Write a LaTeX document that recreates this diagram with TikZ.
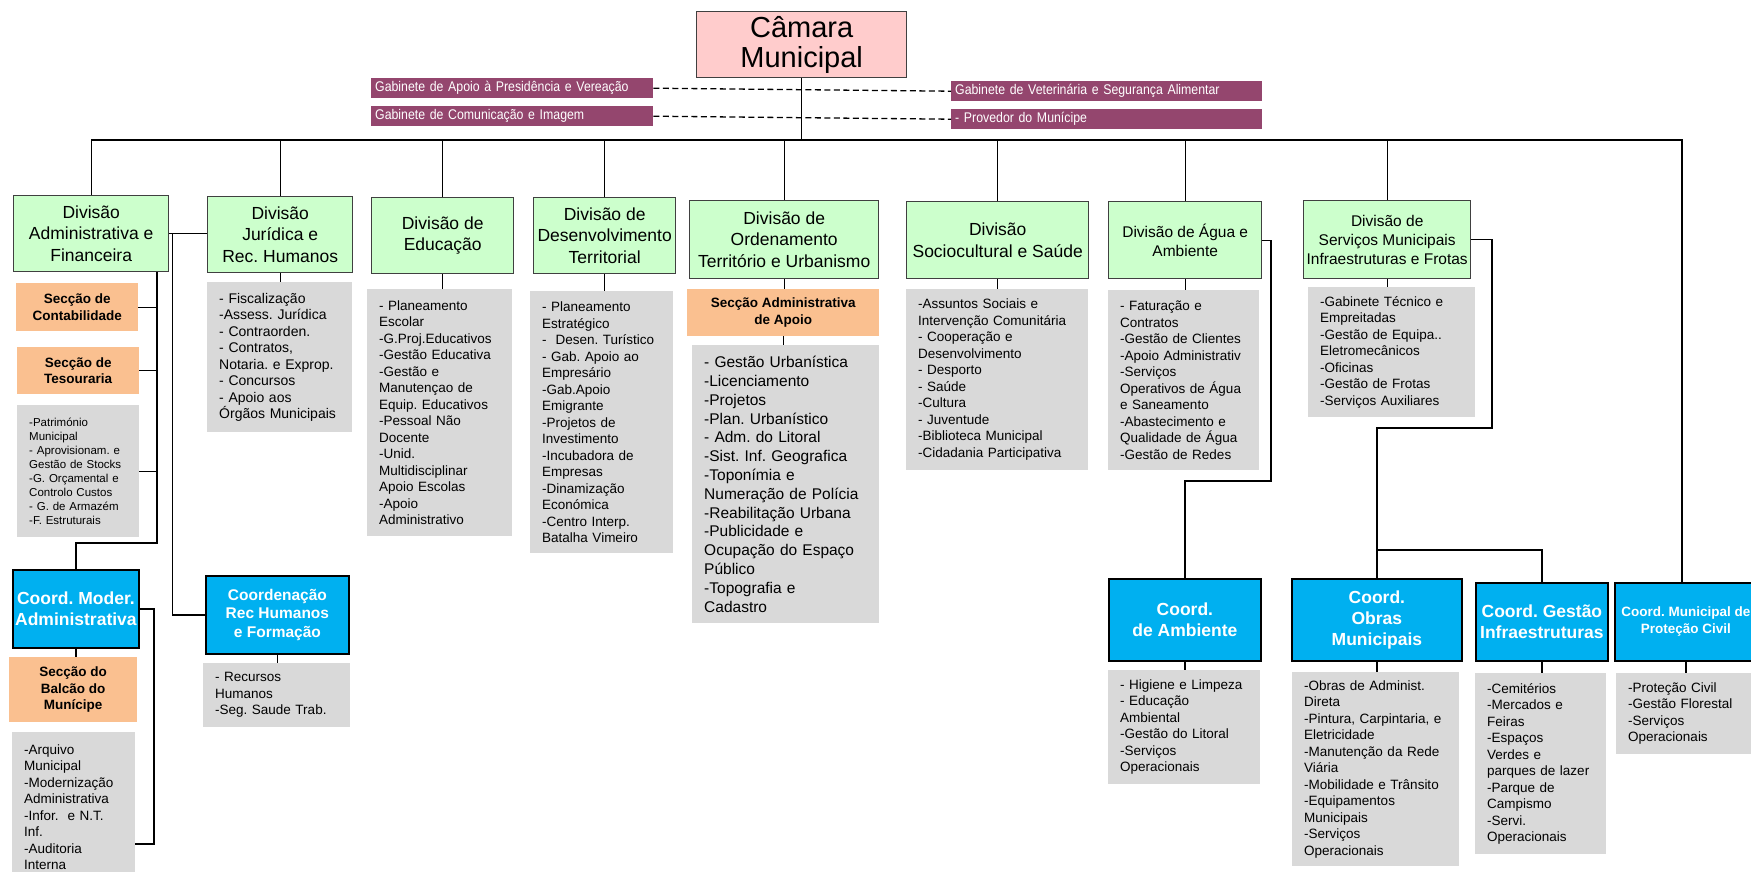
\documentclass[tikz,border=0pt]{standalone}
\usepackage{fontspec}
\setmainfont{Liberation Sans}
\newfontfamily\gabfont[FakeStretch=0.88]{Liberation Sans}
\usetikzlibrary{positioning,calc}
\usepackage{xcolor}
\frenchspacing
\definecolor{divgreen}{RGB}{204,255,204}
\definecolor{camarapink}{RGB}{255,204,204}
\definecolor{secorange}{RGB}{250,192,144}
\definecolor{listgray}{RGB}{217,217,217}
\definecolor{coordblue}{RGB}{0,176,240}
\definecolor{gabpurple}{RGB}{148,70,110}
\tikzstyle{link} = [line width=1.3pt, draw=black]
\tikzstyle{dashlink} = [link, dash pattern=on 6pt off 3.5pt]

\begin{document}
\begin{tikzpicture}[
    x=1pt, y=-1pt,
    topbox/.style={rectangle, draw=black!75, line width=1.4pt, fill=camarapink,
        anchor=north west, align=center, inner sep=2pt,
        font=\fontsize{29}{30}\selectfont},
    division/.style={rectangle, draw=black!75, line width=1.4pt, fill=divgreen,
        anchor=north west, align=center, inner sep=2pt,
        font=\fontsize{17.5}{21.5}\selectfont},
    divsmall/.style={division, font=\fontsize{15.5}{19}\selectfont},
    gabinete/.style={rectangle, fill=gabpurple, text=white, anchor=north west,
        align=left, inner xsep=4pt, inner ysep=0pt, minimum height=20pt,
        font=\gabfont\fontsize{14}{16}\selectfont},
    secbox/.style={rectangle, fill=secorange, anchor=north west, align=center,
        inner sep=2pt, font=\bfseries\fontsize{13.5}{16.5}\selectfont},
    coordbox/.style={rectangle, draw=black, line width=1.8pt, fill=coordblue,
        text=white, anchor=north west, align=center, inner sep=2pt,
        font=\bfseries\fontsize{17.5}{21}\selectfont},
    listbox/.style={rectangle, fill=listgray, anchor=north west, align=left,
        inner xsep=12pt, inner ysep=3pt, font=\fontsize{13.5}{16.5}\selectfont}
]
\useasboundingbox (0,0) rectangle (1751,872);

% Top
\node[topbox, minimum width=210pt, minimum height=66pt] (camara) at (696,11) {Câmara\\Municipal};
\node[gabinete, text width=274pt] (gabL1) at (371,78)  {Gabinete de Apoio à Presidência e Vereação};
\node[gabinete, text width=274pt] (gabL2) at (371,106) {Gabinete de Comunicação e Imagem};
\node[gabinete, text width=303pt] (gabR1) at (951,81)  {Gabinete de Veterinária e Segurança Alimentar};
\node[gabinete, text width=303pt] (gabR2) at (951,109) {- Provedor do Munícipe};

% Divisions
\node[division, minimum width=155pt, minimum height=76pt] (admfin)   at (13,195)  {Divisão\\Administrativa e\\Financeira};
\node[division, minimum width=145pt, minimum height=76pt] (juridica) at (207,196) {Divisão\\Jurídica e\\Rec. Humanos};
\node[division, minimum width=142pt, minimum height=76pt] (edu)      at (371,197) {Divisão de\\Educação};
\node[division, minimum width=142pt, minimum height=76pt] (des)      at (533,197) {Divisão de\\Desenvolvimento\\Territorial};
\node[division, minimum width=189pt, minimum height=78pt] (ord)      at (689,200) {Divisão de\\Ordenamento\\Território e Urbanismo};
\node[division, minimum width=182pt, minimum height=77pt] (socio)    at (906,201) {Divisão\\Sociocultural e Saúde};
\node[divsmall, minimum width=153pt, minimum height=77pt] (agua)     at (1108,201) {Divisão de Água e\\Ambiente};
\node[divsmall, minimum width=167pt, minimum height=78pt] (serv)     at (1303,200) {Divisão de\\Serviços Municipais\\Infraestruturas e Frotas};

% Adm-Fin column
\node[secbox, minimum width=122pt, minimum height=48pt] (contab) at (16,283) {Secção de\\Contabilidade};
\node[secbox, minimum width=122pt, minimum height=47pt] (tesour) at (17,347) {Secção de\\Tesouraria};
\node[listbox, text width=98pt, minimum height=132pt, font=\fontsize{11.5}{14}\selectfont] (admlist) at (17,405)
    {-Património\\Municipal\\- Aprovisionam. e\\Gestão de Stocks\\-G. Orçamental e\\Controlo Custos\\- G. de Armazém\\-F. Estruturais};
\node[coordbox, minimum width=126pt, minimum height=78pt] (modadm) at (12,569) {Coord. Moder.\\Administrativa};
\node[secbox, minimum width=128pt, minimum height=65pt] (balcao) at (9,657) {Secção do\\Balcão do\\Munícipe};
\node[listbox, text width=99pt, minimum height=150pt] (arqlist) at (12,732)
    {-Arquivo\\Municipal\\-Modernização\\Administrativa\\-Infor. \ e N.T.\\Inf.\\-Auditoria\\Interna};

% Juridica column
\node[listbox, text width=121pt, minimum height=150pt, font=\fontsize{14}{16.5}\selectfont] (jurlist) at (207,282)
    {- Fiscalização\\-Assess. Jurídica\\- Contraorden.\\- Contratos,\\Notaria. e Exprop.\\- Concursos\\- Apoio aos\\Órgãos Municipais};
\node[coordbox, minimum width=143pt, minimum height=78pt, font=\bfseries\fontsize{15.5}{18.3}\selectfont] (rhcoord) at (205,575)
    {Coordenação\\Rec Humanos\\e Formação};
\node[listbox, text width=123pt, minimum height=64pt] (rhlist) at (203,663) {- Recursos\\Humanos\\-Seg. Saude Trab.};

% Middle columns
\node[listbox, text width=121pt, minimum height=247pt] (edulist) at (367,289)
    {- Planeamento\\Escolar\\-G.Proj.Educativos\\-Gestão Educativa\\-Gestão e\\Manutençao de\\Equip. Educativos\\-Pessoal Não\\Docente\\-Unid.\\Multidisciplinar\\Apoio Escolas\\-Apoio\\Administrativo};
\node[listbox, text width=119pt, minimum height=262pt] (deslist) at (530,291)
    {- Planeamento\\Estratégico\\- \ Desen. Turístico\\- Gab. Apoio ao\\Empresário\\-Gab.Apoio\\Emigrante\\-Projetos de\\Investimento\\-Incubadora de\\Empresas\\-Dinamização\\Económica\\-Centro Interp.\\Batalha Vimeiro};
\node[secbox, minimum width=192pt, minimum height=47pt] (ordsec) at (687,289) {Secção Administrativa\\de Apoio};
\node[listbox, text width=163pt, minimum height=278pt, font=\fontsize{15.5}{18.8}\selectfont] (ordlist) at (692,345)
    {- Gestão Urbanística\\-Licenciamento\\-Projetos\\-Plan. Urbanístico\\- Adm. do Litoral\\-Sist. Inf. Geografica\\-Toponímia e\\Numeração de Polícia\\-Reabilitação Urbana\\-Publicidade e\\Ocupação do Espaço\\Público\\-Topografia e\\Cadastro};
\node[listbox, text width=158pt, minimum height=181pt] (socilist) at (906,289)
    {-Assuntos Sociais e\\Intervenção Comunitária\\- Cooperação e\\Desenvolvimento\\- Desporto\\- Saúde\\-Cultura\\- Juventude\\-Biblioteca Municipal\\-Cidadania Participativa};
\node[listbox, text width=127pt, minimum height=180pt] (agualist) at (1108,290)
    {- Faturação e\\Contratos\\-Gestão de Clientes\\-Apoio Administrativ\\-Serviços\\Operativos de Água\\e Saneamento\\-Abastecimento e\\Qualidade de Água\\-Gestão de Redes};
\node[listbox, text width=143pt, minimum height=130pt] (servlist) at (1308,287)
    {-Gabinete Técnico e\\Empreitadas\\-Gestão de Equipa..\\Eletromecânicos\\-Oficinas\\-Gestão de Frotas\\-Serviços Auxiliares};

% Coordinations
\node[coordbox, minimum width=152pt, minimum height=82pt] (ambcoord)  at (1108,578) {Coord.\\de Ambiente};
\node[coordbox, minimum width=170pt, minimum height=82pt] (obrcoord)  at (1291,578) {Coord.\\Obras\\Municipais};
\node[coordbox, minimum width=132pt, minimum height=78pt] (gestcoord) at (1475,582) {Coord. Gestão\\Infraestruturas};
\node[coordbox, minimum width=142pt, minimum height=78pt, font=\bfseries\fontsize{13.5}{17}\selectfont] (protcoord) at (1614,582)
    {Coord. Municipal de\\Proteção Civil};
\node[listbox, text width=128pt, minimum height=114pt] (amblist) at (1108,670)
    {- Higiene e Limpeza\\- Educação\\Ambiental\\-Gestão do Litoral\\-Serviços\\Operacionais};
\node[listbox, text width=143pt, minimum height=194pt] (obrlist) at (1292,672)
    {-Obras de Administ.\\Direta\\-Pintura, Carpintaria, e\\Eletricidade\\-Manutenção da Rede\\Viária\\-Mobilidade e Trânsito\\-Equipamentos\\Municipais\\-Serviços\\Operacionais};
\node[listbox, text width=107pt, minimum height=181pt] (gestlist) at (1475,673)
    {-Cemitérios\\-Mercados e\\Feiras\\-Espaços\\Verdes e\\parques de lazer\\-Parque de\\Campismo\\-Servi.\\Operacionais};
\node[listbox, text width=116pt, minimum height=81pt] (protlist) at (1616,673)
    {-Proteção Civil\\-Gestão Florestal\\-Serviços\\Operacionais};

% Connectors
\coordinate (busR) at (1682,140);
\draw[link] (admfin.north) |- (busR) -- (busR |- protcoord.north);
\draw[link] (camara.south) -- (camara.south |- busR);
\foreach \n in {juridica,edu,des,ord,socio,agua,serv}
    \draw[link] (\n.north) -- (\n.north |- busR);
\draw[dashlink] (gabL1.east) -- (gabR1.west);
\draw[dashlink] (gabL2.east) -- (gabR2.west);

\coordinate (admtrunk) at (157,543);
\draw[link] (admfin.south -| admtrunk) -- (admtrunk) -| (modadm.north);
\foreach \n in {contab,tesour,admlist}
    \draw[link] (\n.east) -- (\n.east -| admtrunk);
\draw[link] (admfin.east) -- (admfin.east -| juridica.west);
\draw[link] ([xshift=3pt]admfin.east) |- (rhcoord.west);
\draw[link] (modadm.south) -- (modadm.south |- balcao.north);
\coordinate (arqbend) at (154,844);
\draw[link] (modadm.east) -| (arqbend) -- (arqbend -| arqlist.east);

\foreach \a/\b in {juridica/jurlist, rhcoord/rhlist, edu/edulist, des/deslist, ord/ordsec,
        ordsec/ordlist, socio/socilist, agua/agualist, serv/servlist, ambcoord/amblist,
        obrcoord/obrlist, gestcoord/gestlist, protcoord/protlist}
    \draw[link] (\a.south) -- (\a.south |- \b.north);

\coordinate (aguabend) at (1271,481);
\draw[link] (agua.east) -| (aguabend) -| (ambcoord.north);
\coordinate (servbend) at (1492,428);
\draw[link] (serv.east) -| (servbend) -| (obrcoord.north);
\coordinate (gestbend) at (1376,550);
\draw[link] (gestbend) -| (gestcoord.north);

\end{tikzpicture}
\end{document}
